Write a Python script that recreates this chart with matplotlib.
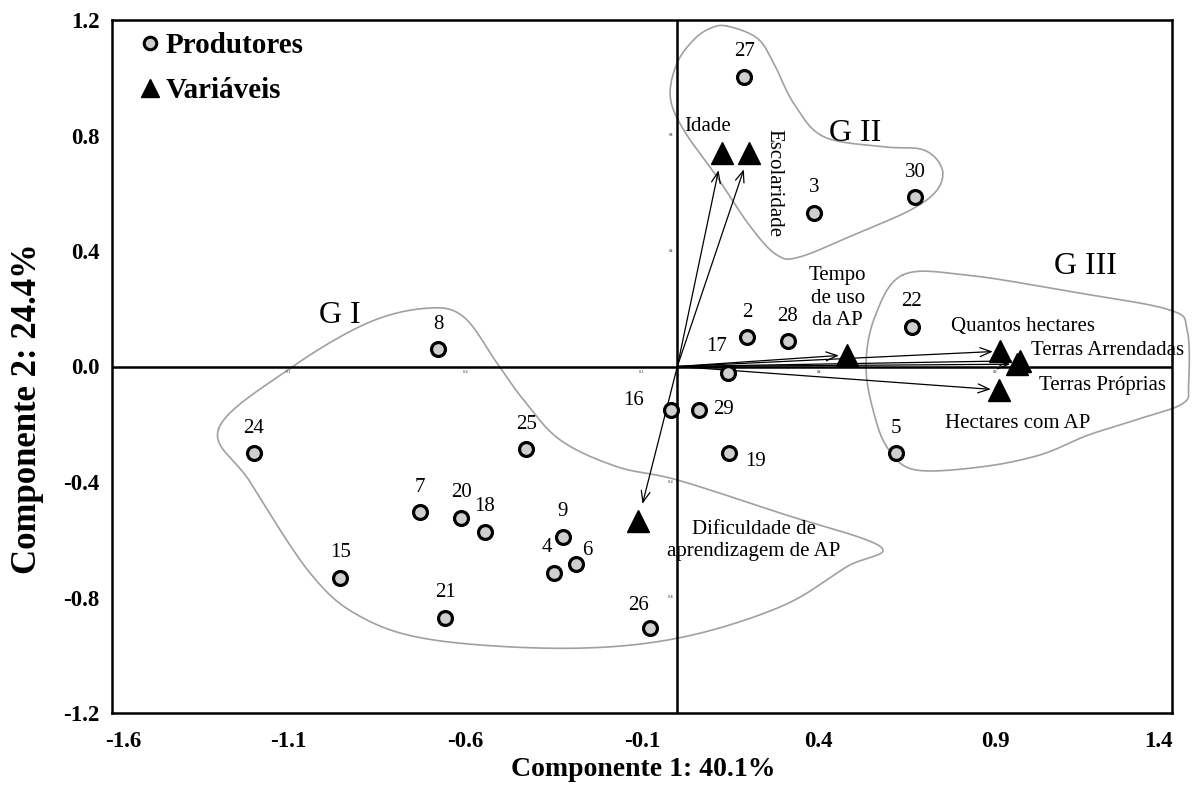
import numpy as np
import matplotlib
matplotlib.use("Agg")
import matplotlib.pyplot as plt
from matplotlib.lines import Line2D
from matplotlib.transforms import ScaledTranslation

plt.rcParams["font.family"] = ["Liberation Serif", "DejaVu Serif"]

# produtores (componente 1, componente 2)
producer_ids = ["27", "3", "30", "2", "28", "17", "22", "5", "29", "19", "16",
                "8", "24", "25", "7", "20", "18", "9", "4", "6", "15", "21", "26"]
producer_pc1 = [0.190, 0.387, 0.674, 0.197, 0.313, 0.142, 0.663, 0.618, 0.061, 0.145, -0.017,
                -0.676, -1.199, -0.427, -0.729, -0.612, -0.545, -0.325, -0.350, -0.286, -0.954, -0.657, -0.076]
producer_pc2 = [1.003, 0.532, 0.587, 0.101, 0.088, -0.021, 0.138, -0.300, -0.150, -0.300, -0.151,
                0.060, -0.300, -0.287, -0.505, -0.524, -0.572, -0.589, -0.716, -0.685, -0.731, -0.870, -0.907]

# variaveis
var_names = ["Idade", "Escolaridade", "Tempo\nde uso\nda AP", "Quantos hectares",
             "Terras Arrendadas", "Terras Próprias", "Hectares com AP",
             "Dificuldade de\naprendizagem de AP"]
var_pc1 = [0.127, 0.204, 0.479, 0.914, 0.969, 0.962, 0.909, -0.111]
var_pc2 = [0.740, 0.740, 0.040, 0.053, 0.020, 0.008, -0.081, -0.535]

# contornos dos grupos
g1_pc1 = [-1.298, -1.095, -0.878, -0.708, -0.605, -0.510, -0.435, -0.331, -0.171, 0.0, 0.292,
          0.575, 0.480, 0.292, 0.0, -0.312, -0.690, -0.897, -1.039, -1.209]
g1_pc2 = [-0.215, -0.006, 0.150, 0.202, 0.172, 0.011, -0.116, -0.255, -0.347, -0.393, -0.508,
          -0.624, -0.693, -0.832, -0.941, -0.976, -0.947, -0.866, -0.716, -0.400]
g2_pc1 = [0.141, 0.226, 0.273, 0.329, 0.414, 0.584, 0.697, 0.749, 0.735, 0.660, 0.509, 0.348,
          0.282, 0.207, 0.112, 0.018, -0.020, -0.001, 0.046, 0.093]
g2_pc2 = [1.179, 1.137, 1.050, 0.912, 0.796, 0.761, 0.750, 0.686, 0.611, 0.542, 0.461, 0.380,
          0.386, 0.484, 0.657, 0.819, 0.934, 1.050, 1.131, 1.171]
g3_pc1 = [0.638, 0.817, 1.115, 1.393, 1.443, 1.447, 1.432, 1.313, 1.164, 1.027, 0.858, 0.674,
          0.599, 0.559, 0.534, 0.559]
g3_pc2 = [0.317, 0.317, 0.259, 0.196, 0.126, -0.058, -0.127, -0.179, -0.237, -0.306, -0.348,
          -0.358, -0.289, -0.174, -0.001, 0.172]

x_ticks = [-1.6, -1.1, -0.6, -0.1, 0.4, 0.9, 1.4]
y_ticks = [-1.2, -0.8, -0.4, 0.0, 0.4, 0.8, 1.2]

# label offsets in points (default: centred above the point)
producer_offsets = {"17": (-7.6, 18.7), "29": (17.6, 0), "19": (19.4, -5.8),
                    "16": (-27, 7), "4": (-5, 18.7), "6": (8, 10), "26": (-8.6, 16.5)}
var_offsets = [(-10.8, 18.7), (17.3, -21.6), (-6.3, 40.8), (16.6, 17.7),
               (8.1, 7.7), (16, -15), (14, -24), (83.2, -13.9)]
var_ha = ["center", "center", "center", "center", "left", "left", "center", "center"]
var_rot = [0, -90, 0, 0, 0, 0, 0, 0]


def closed_spline(xs, ys, n=24):
    p = np.column_stack([xs, ys])
    m = len(p)
    t = np.linspace(0, 1, n, endpoint=False)[:, None]
    segs = []
    for i in range(m):
        p0, p1, p2, p3 = p[i - 1], p[i], p[(i + 1) % m], p[(i + 2) % m]
        segs.append(0.5 * (2 * p1 + (-p0 + p2) * t + (2 * p0 - 5 * p1 + 4 * p2 - p3) * t ** 2
                           + (-p0 + 3 * p1 - 3 * p2 + p3) * t ** 3))
    segs.append(segs[0][:1])
    return np.vstack(segs)


fig = plt.figure(figsize=(12, 7.98), dpi=100)
ax = fig.add_axes([112 / 1200, 1 - 713 / 798, 1060 / 1200, 693 / 798])
ax.set_xlim(-1.6, 1.4)
ax.set_ylim(-1.2, 1.2)

ax.axhline(0, color="black", lw=1.8, zorder=2)
ax.axvline(0, color="black", lw=1.8, zorder=2)

for gx, gy in ((g1_pc1, g1_pc2), (g2_pc1, g2_pc2), (g3_pc1, g3_pc2)):
    curve = closed_spline(gx, gy)
    ax.plot(curve[:, 0], curve[:, 1], color="#a0a0a0", lw=1.2, clip_on=False, zorder=1)

for gname, gx, gy in (("G I", -0.954, 0.178), ("G II", 0.504, 0.806), ("G III", 1.154, 0.346)):
    ax.text(gx, gy, gname, fontsize=23, ha="center", va="center")

# arrows from the origin to each variable
for vx, vy in zip(var_pc1, var_pc2):
    dxp, dyp = vx * 353.3, vy * 288.75
    sin = abs(dyp) / np.hypot(dxp, dyp)
    ax.annotate("", xy=(vx, vy), xytext=(0, 0),
                arrowprops=dict(arrowstyle="->,head_length=0.8,head_width=0.32",
                                lw=0.9, color="black", shrinkA=0, shrinkB=5 + 8 * sin),
                zorder=3)

ax.plot(var_pc1, var_pc2, linestyle="none", marker="^", markersize=16.5,
        color="black", zorder=4)
ax.plot(producer_pc1, producer_pc2, linestyle="none", marker="o", markersize=10,
        markerfacecolor="#cfcfcf", markeredgecolor="black", markeredgewidth=2.3, zorder=5)

for pid, px, py in zip(producer_ids, producer_pc1, producer_pc2):
    ax.annotate(pid, (px, py), xytext=producer_offsets.get(pid, (0, 18)),
                textcoords="offset points", ha="center", va="center", fontsize=15)

for name, vx, vy, off, ha, rot in zip(var_names, var_pc1, var_pc2, var_offsets, var_ha, var_rot):
    ax.annotate(name, (vx, vy), xytext=off, textcoords="offset points",
                ha=ha, va="center", fontsize=15, rotation=rot, linespacing=1.25)

# tiny labels on the inner axes
for t in x_ticks[1:-1]:
    ax.text(t, -0.012, f"{t:.1f}", fontsize=2.5, ha="center", va="top")
for t in y_ticks[1:-1]:
    if t != 0:
        ax.text(-0.012, t, f"{t:.1f}", fontsize=2.5, ha="right", va="center")

ax.set_xticks(x_ticks)
ax.set_yticks(y_ticks)
ax.set_xticklabels([f"{t:.1f}" for t in x_ticks], fontsize=16.5, fontweight="bold")
ax.set_yticklabels([f"{t:.1f}" for t in y_ticks], fontsize=16.5, fontweight="bold")
ax.tick_params(length=0)
ax.tick_params(axis="x", pad=13)
ax.tick_params(axis="y", pad=9)
# Excel pulls the outermost x labels slightly inward
xlabels = ax.get_xticklabels()
xlabels[0].set_transform(xlabels[0].get_transform() + ScaledTranslation(0.11, 0, fig.dpi_scale_trans))
xlabels[-1].set_transform(xlabels[-1].get_transform() + ScaledTranslation(-0.14, 0, fig.dpi_scale_trans))
for sp in ax.spines.values():
    sp.set_linewidth(1.8)

handles = [Line2D([], [], linestyle="none", marker="o", markersize=9,
                  markerfacecolor="#cfcfcf", markeredgecolor="black", markeredgewidth=2.2),
           Line2D([], [], linestyle="none", marker="^", markersize=12.5, color="black")]
ax.legend(handles, ["Produtores", "Variáveis"], loc="upper left",
          bbox_to_anchor=(0.0283, 0.9827), frameon=False, handlelength=0.55,
          handletextpad=0.25, labelspacing=0.62, borderpad=0, borderaxespad=0,
          prop={"weight": "bold", "size": 21})

fig.text(643 / 1200, 1 - 769 / 798, "Componente 1: 40.1%", fontsize=20,
         fontweight="bold", ha="center", va="center")
fig.text(28 / 1200, 1 - 409 / 798, "Componente 2: 24.4%", fontsize=25,
         fontweight="bold", ha="center", va="center", rotation=90)

fig.savefig("out.png", dpi=100)
